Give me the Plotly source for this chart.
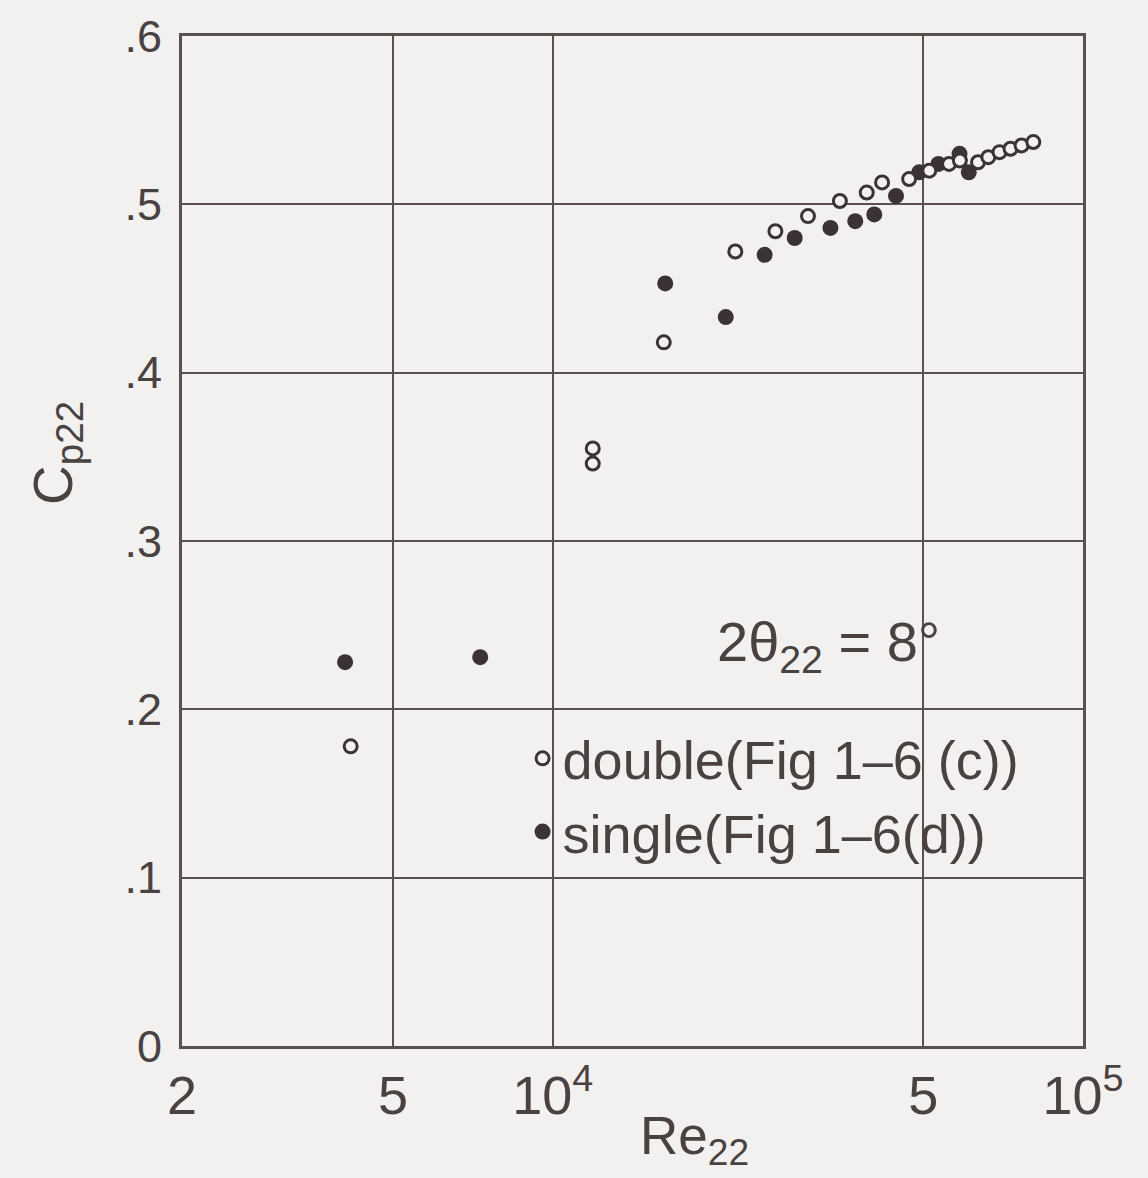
import plotly.graph_objects as go

# ---- data ----
single_re = [4060, 7300, 16300, 21200, 25100, 28600, 33400, 37200, 40400,
             44400, 49100, 53400, 58500, 60900]
single_cp = [0.228, 0.231, 0.453, 0.433, 0.470, 0.480, 0.486, 0.490, 0.494,
             0.505, 0.519, 0.524, 0.530, 0.519]

double_re = [4160, 11900, 11900, 16200, 22100, 26300, 30300, 34800, 39100,
             41800, 47000, 51300, 55900, 58600, 63400, 66300, 69600, 73000,
             76600, 80600]
double_cp = [0.178, 0.355, 0.346, 0.418, 0.472, 0.484, 0.493, 0.502, 0.507,
             0.513, 0.515, 0.520, 0.524, 0.526, 0.525, 0.528, 0.531, 0.533,
             0.535, 0.537]

x_tickvals = [2000, 5000, 10000, 50000, 100000]
x_ticktext = ["2", "5", "10<sup>4</sup>", "5", "10<sup>5</sup>"]
y_tickvals = [0, 0.1, 0.2, 0.3, 0.4, 0.5, 0.6]
y_ticktext = ["0", ".1", ".2", ".3", ".4", ".5", ".6"]

single_name = "single(Fig 1–6(d))"
double_name = "double(Fig 1–6 (c))"

# ---- styling ----
BG = "#f2f1ef"
INK = "#4a4141"
GRID = "#5a5050"
FONT = "Liberation Sans"

fig = go.Figure()

fig.add_trace(go.Scatter(
    x=single_re, y=single_cp, mode="markers", name=single_name,
    legendrank=2,
    marker=dict(symbol="circle", size=16, color="#3b3333",
                line=dict(width=0)),
))
fig.add_trace(go.Scatter(
    x=double_re, y=double_cp, mode="markers", name=double_name,
    legendrank=1,
    marker=dict(symbol="circle", size=13, color=BG,
                line=dict(width=3, color="#3b3333")),
))

# masks reproducing the gaps in the grid of the original drawing
masks = [
    (0.658, 0.838, 0.4975, 0.5025),
    (0.812, 0.834, 0.4975, 0.5315),
    (0.805, 0.840, 0.2015, 0.2768),
    (0.390, 0.860, 0.1025, 0.1931),
    (0.805, 0.840, 0.1025, 0.1985),
]
for x0, x1, y0, y1 in masks:
    fig.add_shape(type="rect", xref="paper", yref="y", x0=x0, x1=x1, y0=y0, y1=y1,
                  fillcolor=BG, line=dict(width=0), layer="between")

fig.add_annotation(
    text="2θ<sub>22</sub> = 8°", xref="paper", yref="paper",
    x=0.717, y=0.397, xanchor="center", yanchor="middle", showarrow=False,
    font=dict(family=FONT, size=56, color=INK),
)
fig.add_annotation(
    text="C<sub>p22</sub>", xref="paper", yref="paper", textangle=-90,
    x=-0.139, y=0.587, xanchor="center", yanchor="middle", showarrow=False,
    font=dict(family=FONT, size=55, color=INK),
)
fig.add_annotation(
    text="Re<sub>22</sub>", xref="paper", yref="paper",
    x=0.569, y=-0.093, xanchor="center", yanchor="middle", showarrow=False,
    font=dict(family=FONT, size=53, color=INK),
)

fig.update_xaxes(
    type="log", range=[3.30103, 5.0],
    tickvals=x_tickvals, ticktext=x_ticktext,
    showgrid=True, gridcolor=GRID, gridwidth=2,
    showline=True, linecolor=GRID, linewidth=3, mirror=True,
    ticks="", ticklabelstandoff=0,
    tickfont=dict(family=FONT, size=54, color=INK),
    zeroline=False,
)
fig.update_yaxes(
    range=[0, 0.6],
    tickvals=y_tickvals, ticktext=y_ticktext,
    showgrid=True, gridcolor=GRID, gridwidth=2,
    showline=True, linecolor=GRID, linewidth=3, mirror=True,
    ticks="", ticklabelstandoff=8,
    tickfont=dict(family=FONT, size=45, color=INK),
    zeroline=False,
)

fig.update_layout(
    width=1148, height=1178,
    margin=dict(l=182, r=65, t=36, b=132),
    paper_bgcolor=BG, plot_bgcolor=BG,
    font=dict(family=FONT, color=INK),
    showlegend=True,
    legend=dict(
        x=0.378, y=0.326, xanchor="left", yanchor="top",
        bgcolor="rgba(0,0,0,0)", borderwidth=0,
        font=dict(family=FONT, size=54, color=INK),
        itemsizing="trace",
    ),
)

fig.write_html(
    "out.html",
    config={"displayModeBar": False},
    post_script="document.body.style.margin='0';"
                "document.body.style.background='%s';" % BG,
)
